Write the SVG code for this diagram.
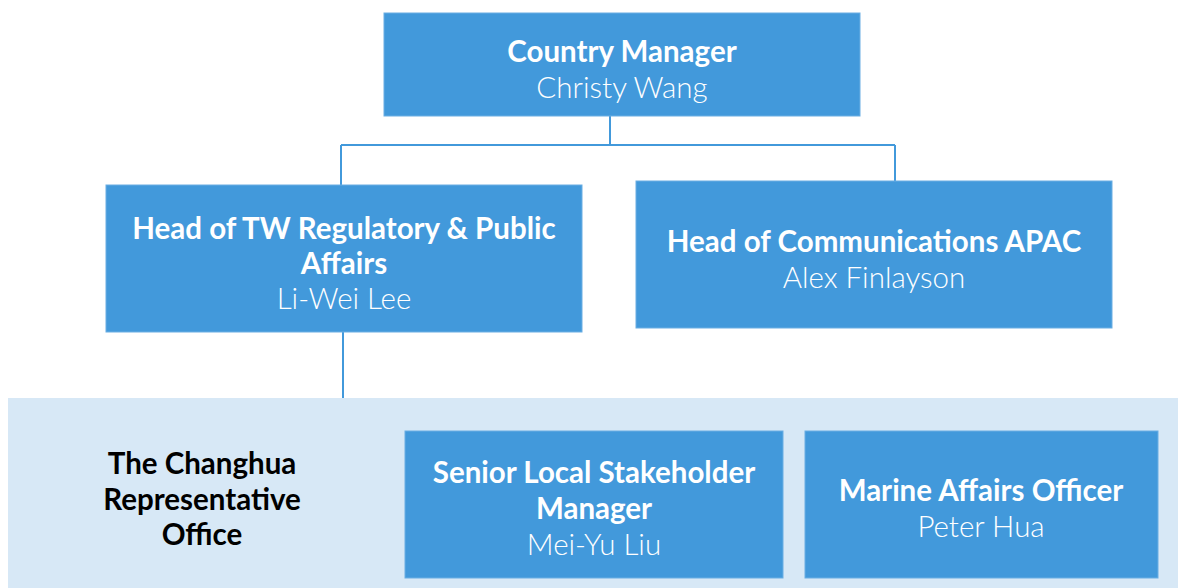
<svg xmlns="http://www.w3.org/2000/svg" width="1178" height="588" viewBox="0 0 1178 588">
<style>
.box{fill:#4299db;stroke:#6aaee3;stroke-width:1}
.t{font-family:Lato,"Open Sans","Liberation Sans",sans-serif;font-size:29.5px;font-weight:700;fill:#ffffff;text-anchor:middle}
.n{font-family:Lato,"Open Sans","Liberation Sans",sans-serif;font-size:29.5px;font-weight:300;fill:#ffffff;text-anchor:middle}
.k{font-family:Lato,"Open Sans","Liberation Sans",sans-serif;font-size:29.5px;font-weight:700;fill:#000000;text-anchor:middle}
.c{fill:none;stroke:#4299db;stroke-width:2}
</style>
<rect x="0" y="0" width="1178" height="588" fill="#ffffff"/>
<g id="office">
<rect x="8" y="398" width="1170" height="190" fill="#d7e8f6"/>
<text class="k" x="202" y="473.5">The Changhua</text>
<text class="k" x="202" y="509.5">Representative</text>
<text class="k" x="202" y="544.5">Office</text>
</g>
<g id="connectors">
<path class="c" d="M610 116 V145 M341 145 H895 M341 145 V185 M895 145 V181 M343 332 V398"/>
</g>
<g id="country-manager">
<rect class="box" x="384" y="13" width="476" height="103"/>
<text class="t" x="622" y="61.5">Country Manager</text>
<text class="n" x="622" y="97.5">Christy Wang</text>
</g>
<g id="head-regulatory">
<rect class="box" x="106" y="185" width="476" height="147"/>
<text class="t" x="344" y="238.5">Head of TW Regulatory &amp; Public</text>
<text class="t" x="344" y="273.5">Affairs</text>
<text class="n" x="344" y="308.5">Li-Wei Lee</text>
</g>
<g id="head-communications">
<rect class="box" x="636" y="181" width="476" height="147"/>
<text class="t" x="874" y="251.5">Head of Communications APAC</text>
<text class="n" x="874" y="287.5">Alex Finlayson</text>
</g>
<g id="senior-stakeholder">
<rect class="box" x="405" y="431" width="378" height="147"/>
<text class="t" x="594" y="482.5">Senior Local Stakeholder</text>
<text class="t" x="594" y="518.5">Manager</text>
<text class="n" x="594" y="554.5">Mei-Yu Liu</text>
</g>
<g id="marine-affairs">
<rect class="box" x="805" y="431" width="353" height="147"/>
<text class="t" x="981" y="500.5">Marine Affairs Officer</text>
<text class="n" x="981" y="536.5">Peter Hua</text>
</g>
</svg>
